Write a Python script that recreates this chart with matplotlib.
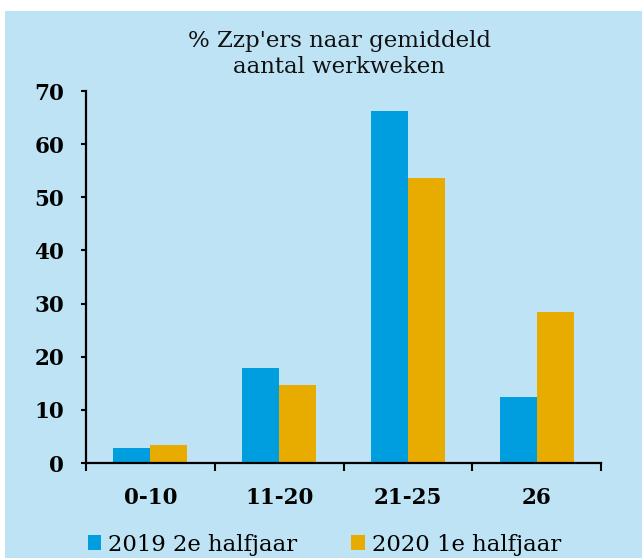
import numpy as np
import matplotlib.pyplot as plt
from matplotlib.patches import Rectangle

# data
categories = ["0-10", "11-20", "21-25", "26"]
vals_2019 = [2.9, 17.9, 66.2, 12.4]
vals_2020 = [3.3, 14.6, 53.6, 28.4]
series_names = ["2019 2e halfjaar", "2020 1e halfjaar"]
title_lines = ["% Zzp'ers naar gemiddeld", "aantal werkweken"]

bg = "#BDE3F4"
blue = "#009EDE"
orange = "#E8AC00"

plt.rcParams['font.family'] = ['DejaVu Serif']

fig = plt.figure(figsize=(6.42, 5.58), dpi=100)
fig.patch.set_facecolor("white")
# light blue panel, small white strip at top and left
fig.patches.append(Rectangle((5 / 642, 0), 1, 1 - 11 / 558, transform=fig.transFigure,
                             facecolor=bg, edgecolor="none", zorder=-10))

ax = fig.add_axes([86 / 642, 95 / 558, 515 / 642, 372 / 558])
ax.set_facecolor("none")

x = np.arange(len(categories))
w = 0.287
ax.bar(x - w / 2, vals_2019, w, color=blue, label=series_names[0])
ax.bar(x + w / 2, vals_2020, w, color=orange, label=series_names[1])

ax.set_xlim(-0.5, len(categories) - 0.5)
ax.set_ylim(0, 70)
ax.set_yticks(range(0, 71, 10))
ax.set_xticks(np.arange(-0.5, len(categories), 1.0))
ax.set_xticklabels([])
ax.set_xticks(x, minor=True)
ax.set_xticklabels(categories, minor=True, fontweight="bold")
for t in ax.get_yticklabels():
    t.set_fontweight("bold")
ax.tick_params(axis="x", which="minor", length=0, pad=17, labelsize=15.5)
ax.tick_params(axis="x", which="major", length=6, width=1.5, direction="out")
ax.tick_params(axis="y", length=3.6, width=1.5, pad=12, labelsize=15.5)

for s in ["top", "right"]:
    ax.spines[s].set_visible(False)
for s in ["left", "bottom"]:
    ax.spines[s].set_linewidth(1.6)

# title, two lines placed on their baselines
fig.text(339 / 642, 1 - 47 / 558, title_lines[0], ha="center", va="baseline",
         fontsize=16.5, color="#111111")
fig.text(339 / 642, 1 - 73 / 558, title_lines[1], ha="center", va="baseline",
         fontsize=16.5, color="#111111")

fig.legend(loc="center", bbox_to_anchor=(0.505, 0.024), ncol=2, frameon=False,
           fontsize=16.4, handlelength=0.6, handleheight=0.6, handletextpad=0.28,
           columnspacing=2.4)

fig.savefig("out.png", dpi=100)
